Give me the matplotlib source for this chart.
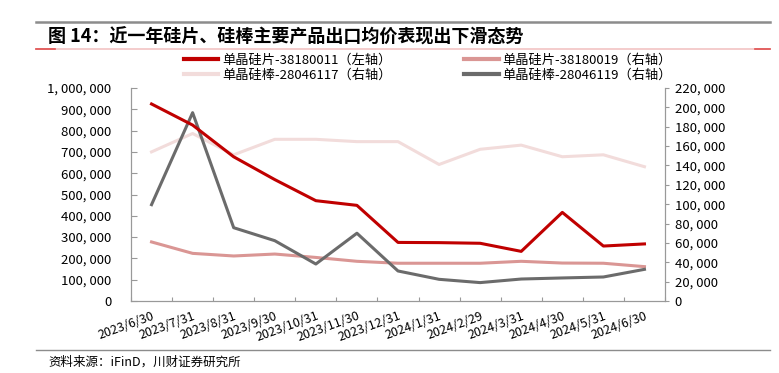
import matplotlib.pyplot as plt
from matplotlib.ticker import FuncFormatter, MultipleLocator
from matplotlib.lines import Line2D

plt.rcParams['font.family'] = ['Noto Sans CJK SC', 'DejaVu Sans']

# 数据
dates = ['2023/6/30', '2023/7/31', '2023/8/31', '2023/9/30', '2023/10/31', '2023/11/30',
         '2023/12/31', '2024/1/31', '2024/2/29', '2024/3/31', '2024/4/30', '2024/5/31', '2024/6/30']
wafer_11 = [925000, 826000, 677000, 570000, 471000, 449000, 275000, 274000, 271000, 233000, 416000, 258000, 268000]
wafer_19 = [61000, 49200, 46500, 48500, 45000, 41000, 39000, 39000, 39000, 41000, 39200, 39000, 35500]
rod_17 = [154000, 173000, 151000, 167000, 167000, 164600, 164600, 141000, 156700, 161000, 149000, 151000, 138700]
rod_19 = [99500, 194500, 75700, 62300, 38200, 70000, 31000, 22400, 19000, 22700, 23800, 24800, 32700]

labels = ['单晶硅片-38180011（左轴）', '单晶硅片-38180019（右轴）',
          '单晶硅棒-28046117（右轴）', '单晶硅棒-28046119（右轴）']
colors = ['#C00000', '#DA9694', '#F2DCDB', '#6B6B6B']

fig = plt.figure(figsize=(7.79, 3.73), dpi=100)
ax = fig.add_axes([131/779, 1-301/373, 534/779, 213/373])
ax2 = ax.twinx()

x = list(range(len(dates)))
ax2.plot(x, rod_17, color=colors[2], lw=2.2)
ax2.plot(x, wafer_19, color=colors[1], lw=2.2)
ax2.plot(x, rod_19, color=colors[3], lw=2.2)
ax.plot(x, wafer_11, color=colors[0], lw=2.2)
ax.set_zorder(ax2.get_zorder() + 1)
ax.patch.set_visible(False)

ax.set_xlim(-0.5, len(dates) - 0.5)
ax.set_ylim(0, 1000000)
ax2.set_ylim(0, 220000)
ax.yaxis.set_major_locator(MultipleLocator(100000))
ax2.yaxis.set_major_locator(MultipleLocator(20000))
fmt = FuncFormatter(lambda v, p: '{:,}'.format(int(v)).replace(',', ', '))
ax.yaxis.set_major_formatter(fmt)
ax2.yaxis.set_major_formatter(fmt)

ax.set_xticks([i + 0.5 for i in range(-1, len(dates))], minor=False)
ax.set_xticklabels([])
ax.set_xticks(x, minor=True)
ax.set_xticklabels(dates, minor=True, rotation=20, ha='right', rotation_mode='anchor', fontsize=9)
ax.tick_params(axis='x', which='minor', length=0, pad=6)
ax.tick_params(axis='x', which='major', direction='in', length=3, color='#999999')
ax.tick_params(axis='y', direction='in', length=4, color='#999999', labelsize=9.5, pad=14)
ax2.tick_params(axis='y', direction='out', length=3, color='#999999', labelsize=9.5, pad=4)

for a in (ax, ax2):
    a.spines['top'].set_visible(False)
    for s in ('left', 'right', 'bottom'):
        a.spines[s].set_color('#999999')

handles = [Line2D([], [], color=c, lw=3) for c in colors]
order = [0, 2, 1, 3]
fig.legend([handles[i] for i in order], [labels[i] for i in order], ncol=2,
           loc='center', bbox_to_anchor=(428/779, 1-68/373), frameon=False, fontsize=9.5,
           handlelength=2.6, columnspacing=5.5, handletextpad=0.3, labelspacing=0.15)

# 标题与来源
fig.add_artist(Line2D([36/779, 770/779], [1-22/373, 1-22/373], color='#8C8C8C', lw=1.8))
fig.add_artist(Line2D([36/779, 770/779], [1-49/373, 1-49/373], color='#F2C4C4', lw=1.2))
fig.add_artist(Line2D([36/779, 55/779], [1-49/373, 1-49/373], color='#E05050', lw=1.2))
fig.add_artist(Line2D([755/779, 770/779], [1-49/373, 1-49/373], color='#E05050', lw=1.2))
fig.text(48/779, 1-37/373, '图 14：近一年硅片、硅棒主要产品出口均价表现出下滑态势',
         fontsize=13, fontweight='bold', va='center', ha='left')
fig.add_artist(Line2D([36/779, 770/779], [1-350/373, 1-350/373], color='#8C8C8C', lw=1))
fig.text(48/779, 1-362/373, '资料来源：iFinD，川财证券研究所', fontsize=9,
         style='italic', va='center', ha='left')

fig.savefig('out.png', dpi=100)
